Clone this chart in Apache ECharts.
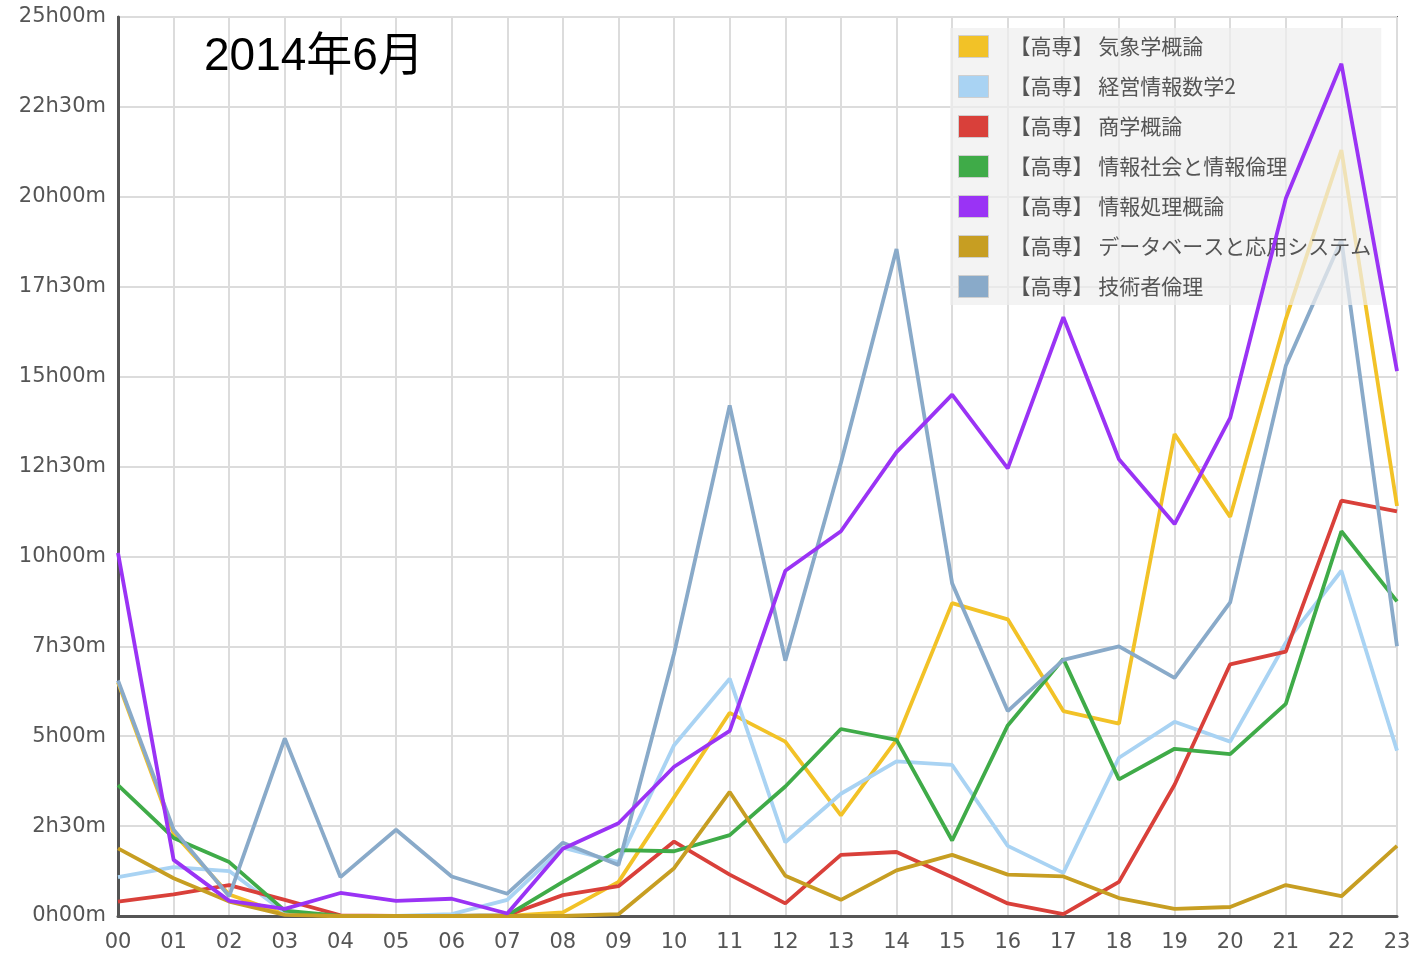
<!DOCTYPE html>
<html>
<head>
<meta charset="utf-8">
<script src="https://cdn.jsdelivr.net/npm/echarts@6/dist/echarts.min.js"></script>
<style>
  html, body { margin: 0; padding: 0; background: #fff; }
  #chart { width: 1415px; height: 954px; }
</style>
</head>
<body>
<div id="chart"></div>
<script>
// hours of the day (x categories)
const hours = ["00","01","02","03","04","05","06","07","08","09","10","11",
               "12","13","14","15","16","17","18","19","20","21","22","23"];

// series names, in legend order
const names = [
  "【高専】 気象学概論",
  "【高専】 経営情報数学2",
  "【高専】 商学概論",
  "【高専】 情報社会と情報倫理",
  "【高専】 情報処理概論",
  "【高専】 データベースと応用システム",
  "【高専】 技術者倫理"
];
const colors = ["#f2c227", "#a9d3f3", "#d9403a", "#3fab48", "#9a33f5", "#c79e22", "#89aac9"];

// values in hours
const kishou   = [6.5, 2.3, 0.6, 0.05, 0, 0, 0, 0, 0.1, 0.95, 3.3, 5.65, 4.85, 2.8, 4.9, 8.7, 8.25, 5.7, 5.35, 13.4, 11.1, 16.6, 21.3, 11.4];
const keiei    = [1.08, 1.36, 1.25, 0.1, 0, 0, 0.05, 0.45, 1.9, 1.5, 4.75, 6.6, 2.05, 3.4, 4.3, 4.2, 1.95, 1.2, 4.4, 5.4, 4.85, 7.6, 9.6, 4.6];
const shougaku = [0.4, 0.6, 0.86, 0.45, 0.02, 0, 0, 0.02, 0.58, 0.83, 2.07, 1.15, 0.35, 1.7, 1.78, 1.08, 0.35, 0.05, 0.95, 3.65, 7.0, 7.35, 11.55, 11.25];
const shakai   = [3.64, 2.17, 1.5, 0.15, 0, 0, 0, 0.02, 0.95, 1.83, 1.8, 2.25, 3.6, 5.2, 4.9, 2.1, 5.3, 7.15, 3.8, 4.65, 4.5, 5.9, 10.7, 8.75];
const shori    = [10.1, 1.56, 0.42, 0.2, 0.64, 0.42, 0.48, 0.07, 1.87, 2.58, 4.15, 5.15, 9.6, 10.7, 12.9, 14.5, 12.45, 16.65, 12.7, 10.9, 13.85, 19.95, 23.7, 15.15];
const database = [1.88, 1.05, 0.4, 0.03, 0, 0, 0, 0, 0, 0.05, 1.33, 3.45, 1.12, 0.45, 1.27, 1.7, 1.15, 1.1, 0.5, 0.2, 0.25, 0.86, 0.55, 1.95];
const gijutsu  = [6.55, 2.4, 0.55, 4.94, 1.08, 2.4, 1.1, 0.62, 2.04, 1.42, 7.3, 14.2, 7.1, 12.6, 18.55, 9.25, 5.7, 7.12, 7.5, 6.62, 8.72, 15.3, 18.8, 7.5];

const seriesData = [kishou, keiei, shougaku, shakai, shori, database, gijutsu];

const fmtHM = (v) => {
  const h = Math.floor(v + 1e-9);
  const m = Math.round((v - h) * 60);
  return `${h}h${String(m).padStart(2, "0")}m`;
};

const chart = echarts.init(document.getElementById("chart"));

chart.setOption({
  animation: false,
  backgroundColor: "#fff",
  title: {
    text: "2014年6月",
    left: 199,
    top: 29,
    textStyle: {
      fontSize: 46,
      fontWeight: "normal",
      color: "#000",
      fontFamily: "Liberation Sans, Noto Sans CJK JP, sans-serif"
    }
  },
  grid: {
    left: 118, top: 17, right: 18, bottom: 38,
    show: true,
    borderColor: "#666",
    borderWidth: 2
  },
  legend: {
    orient: "vertical",
    left: 950,
    top: 28,
    padding: [7, 10, 7, 8],
    itemWidth: 30,
    itemHeight: 22,
    itemGap: 17,
    icon: "rect",
    backgroundColor: "rgba(238,238,238,0.72)",
    itemStyle: { borderColor: "#cfcfcf", borderWidth: 1 },
    textStyle: {
      fontSize: 21,
      lineHeight: 23,
      color: "#555",
      padding: [0, 0, 0, 16],
      fontFamily: "Noto Sans CJK JP, sans-serif"
    },
    data: names
  },
  xAxis: {
    type: "category",
    data: hours,
    boundaryGap: false,
    axisLine: { lineStyle: { color: "#555", width: 3 } },
    axisTick: { show: false },
    axisLabel: { fontSize: 21, color: "#555", margin: 16, fontFamily: "DejaVu Sans, sans-serif" },
    splitLine: { show: true, lineStyle: { color: "#dcdcdc", width: 2 } }
  },
  yAxis: {
    type: "value",
    min: 0,
    max: 25,
    interval: 2.5,
    axisLine: { show: true, lineStyle: { color: "#555", width: 3 } },
    axisTick: { show: false },
    axisLabel: { fontSize: 21, color: "#555", margin: 12, formatter: fmtHM, fontFamily: "DejaVu Sans, sans-serif" },
    splitLine: { show: true, lineStyle: { color: "#dcdcdc", width: 2 } }
  },
  series: names.map((name, i) => ({
    name,
    type: "line",
    data: seriesData[i],
    symbol: "none",
    color: colors[i],
    lineStyle: { width: 3.8, color: colors[i] },
    itemStyle: { color: colors[i] },
    z: i === 4 ? 5 : 2
  }))
});
</script>
</body>
</html>
